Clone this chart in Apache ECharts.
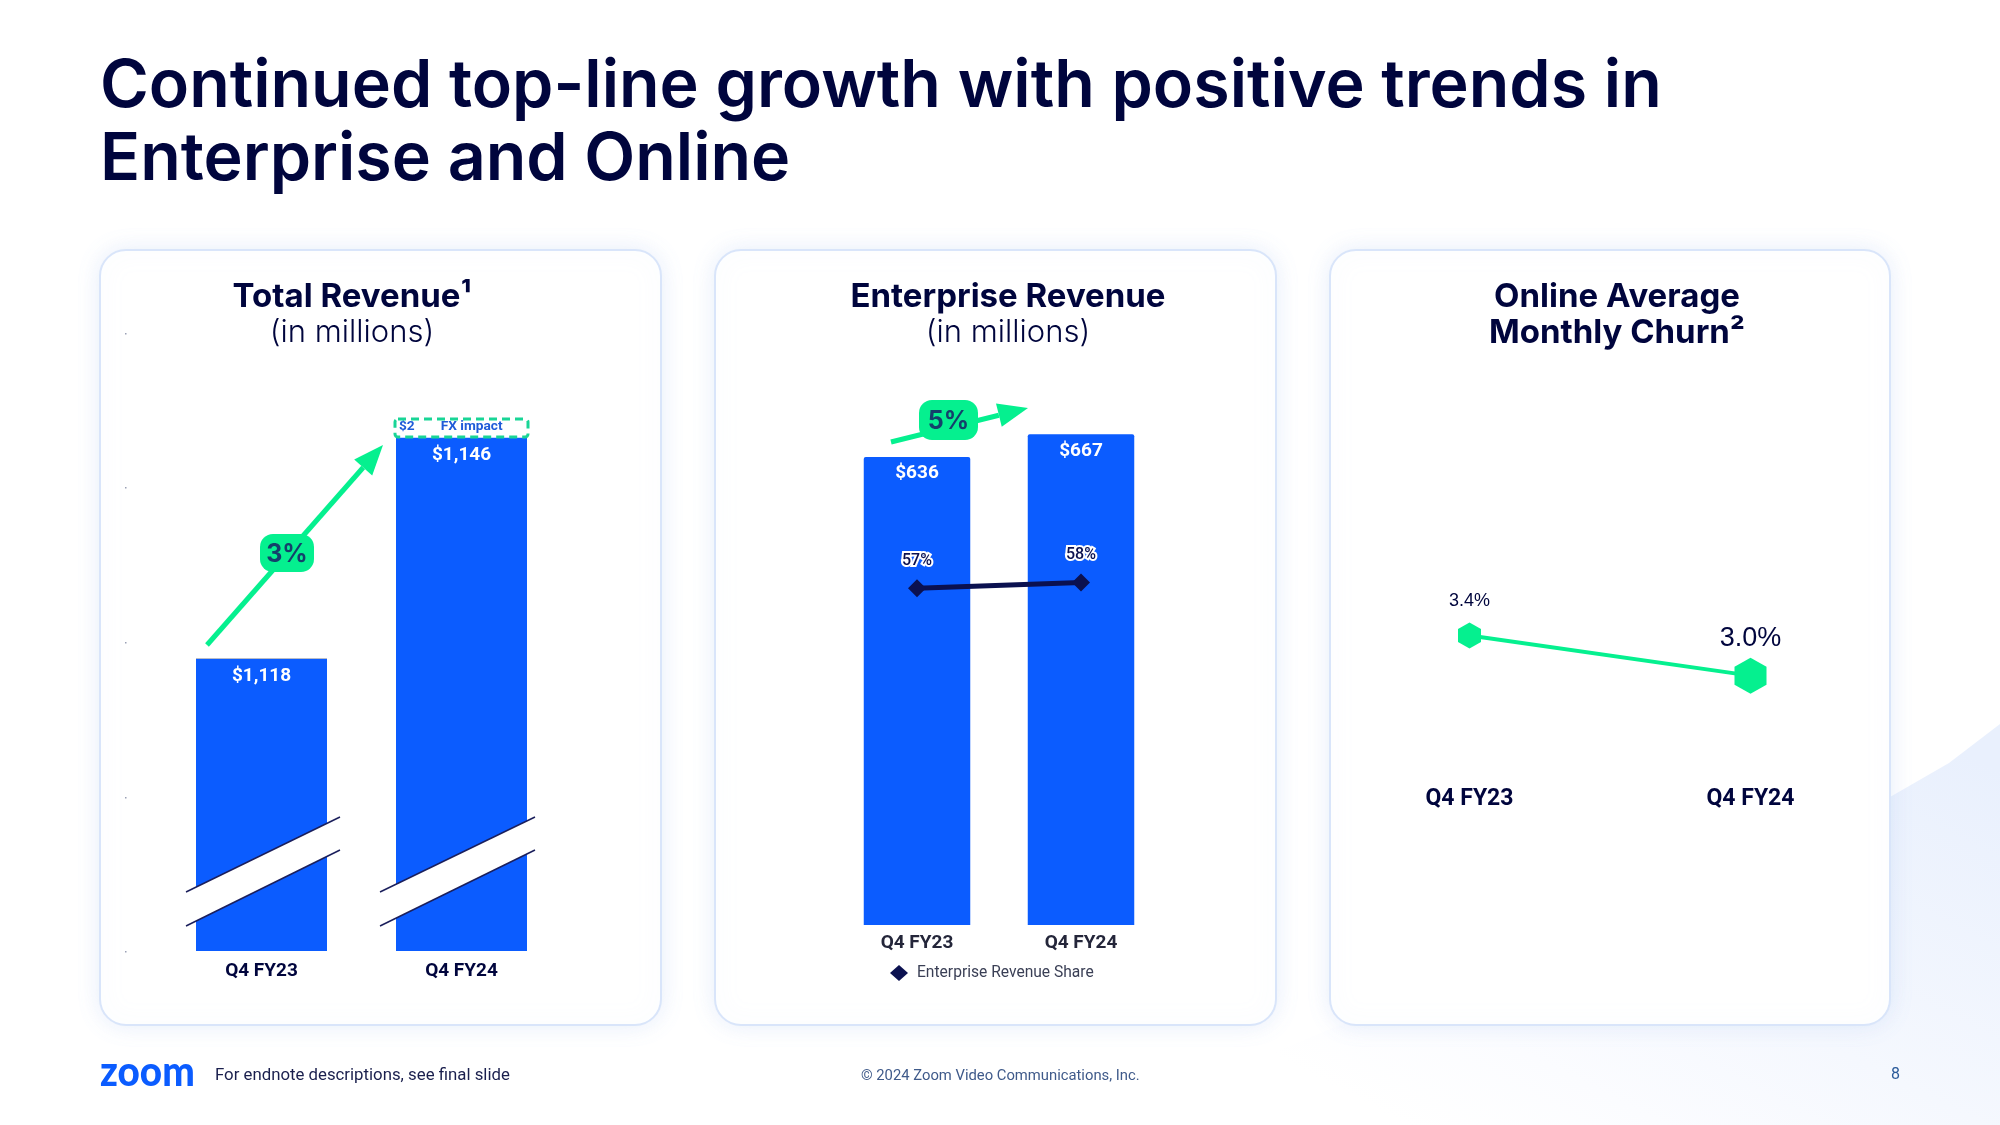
<!DOCTYPE html>
<html>
<head>
<meta charset="utf-8">
<title>Zoom Q4 FY24</title>
<style>
html, body { margin: 0; padding: 0; background: #fff; }
#container { width: 2000px; height: 1125px; }
</style>
<script src="https://cdn.jsdelivr.net/npm/echarts@6/dist/echarts.min.js"></script>
</head>
<body>
<div id="container"></div>
<script>
var categories = ['Q4 FY23', 'Q4 FY24'];
var totalRevenue = [1118, 1146];
var fxImpact = [null, 2];
var enterpriseRevenue = [636, 667];
var enterpriseShare = [57, 58];
var churn = [3.4, 3.0];

var BLUE = '#0B5CFF';
var NAVY = '#00053D';
var GREEN = '#05F08F';
var TITLE_FONT = 'Inter';
var BODY_FONT = 'Roboto';

// arrow = line + triangle head
function arrow(x1, y1, x2, y2) {
    var a = Math.atan2(y2 - y1, x2 - x1);
    var len = 30, half = 12;
    var bx = x2 - Math.cos(a) * len, by = y2 - Math.sin(a) * len;
    return [
        { type: 'line', z: 3, shape: { x1: x1, y1: y1, x2: bx, y2: by }, style: { stroke: GREEN, lineWidth: 5 } },
        { type: 'polygon', z: 3, shape: { points: [
            [x2, y2],
            [bx - Math.sin(a) * half, by + Math.cos(a) * half],
            [bx + Math.sin(a) * half, by - Math.cos(a) * half]
        ] }, style: { fill: GREEN } }
    ];
}

function badge(x, y, w, h, text) {
    return [
        { type: 'rect', z: 4, shape: { x: x, y: y, width: w, height: h, r: 13 }, style: { fill: GREEN } },
        { type: 'text', z: 5, style: { x: x + w / 2, y: y + h / 2 + 1, text: text, fill: '#14406B', font: '700 25px ' + TITLE_FONT, textAlign: 'center', textVerticalAlign: 'middle' } }
    ];
}

// white slash over the bars, marks the cut axis
function axisCut(x1, x2) {
    return [
        { type: 'polygon', z: 10, shape: { points: [[x1, 892], [x2, 817], [x2, 850], [x1, 926]] }, style: { fill: '#fff' } },
        { type: 'line', z: 11, shape: { x1: x1, y1: 892, x2: x2, y2: 817 }, style: { stroke: '#1B1F5C', lineWidth: 1.5 } },
        { type: 'line', z: 11, shape: { x1: x1, y1: 926, x2: x2, y2: 850 }, style: { stroke: '#1B1F5C', lineWidth: 1.5 } }
    ];
}

function panel(x, w) {
    return { type: 'rect', z: 0, shape: { x: x, y: 250, width: w, height: 775, r: 26 },
        style: { fill: '#fff', stroke: '#D9E5FA', lineWidth: 2, shadowBlur: 22, shadowColor: 'rgba(170,195,240,0.28)' } };
}

function headline(text, x, y, size, weight) {
    return { text: text, left: x, top: y, textAlign: 'center', textVerticalAlign: 'middle', padding: 0,
        textStyle: { color: NAVY, fontFamily: TITLE_FONT, fontSize: size, fontWeight: weight } };
}

var shapes = [
    { type: 'polygon', z: -2, shape: { points: [[1100, 1125], [1400, 1000], [1890, 797], [1949, 763], [2000, 724], [2000, 1125]] },
        style: { fill: new echarts.graphic.LinearGradient(0.9, 0, 0.6, 1.3, [
            { offset: 0, color: '#E9F0FD' }, { offset: 0.55, color: '#F5F8FE' }, { offset: 0.8, color: '#FBFCFF' }, { offset: 1, color: '#FFFFFF' }
        ]) } },
    panel(100, 561), panel(715, 561), panel(1330, 560),
    { type: 'line', z: 3, shape: { x1: 196, y1: 658.5, x2: 327, y2: 658.5 }, style: { stroke: '#B8BCC8', lineWidth: 1 } },
    // dashed box around the FX part of the bar
    { type: 'rect', z: 3, shape: { x: 395, y: 419, width: 133, height: 18, r: 3 },
        style: { fill: null, stroke: '#19D596', lineWidth: 3, lineDash: [8, 5] } },
    { type: 'text', z: 5, x: 100, y: 1072, scaleX: 0.92,
        style: { x: 0, y: 0, text: 'zoom', fill: BLUE, font: '900 42px Lato', textAlign: 'left', textVerticalAlign: 'middle' } }
];
[333, 487, 642, 797, 951].forEach(function (y) {
    shapes.push({ type: 'rect', z: 1, shape: { x: 125, y: y, width: 1.5, height: 1.5 }, style: { fill: '#9aa0b5' } });
});
shapes = shapes
    .concat(arrow(207, 645, 383, 445))
    .concat(badge(260, 534, 54, 38, '3%'))
    .concat(arrow(891, 442, 1028, 408))
    .concat(badge(919, 400, 59, 40, '5%'))
    .concat(axisCut(186, 340))
    .concat(axisCut(380, 535));

var hexagon = 'path://M0,-100 L86.6,-50 L86.6,50 L0,100 L-86.6,50 L-86.6,-50 Z';

function catAxis(gridIndex, size, color, margin) {
    return {
        type: 'category', gridIndex: gridIndex, data: categories,
        axisLine: { show: false }, axisTick: { show: false },
        axisLabel: { color: color, fontFamily: BODY_FONT, fontWeight: 700, fontSize: size, margin: margin }
    };
}

function valAxis(gridIndex, min, max) {
    return { type: 'value', gridIndex: gridIndex, min: min, max: max, show: false };
}

var dom = document.getElementById('container');
var myChart = echarts.init(dom);
var option = {
    animation: false,
    backgroundColor: '#fff',
    title: [
        { text: 'Continued top-line growth with positive trends in\nEnterprise and Online', left: 100, top: 51, padding: 0,
            textStyle: { color: NAVY, fontFamily: TITLE_FONT, fontSize: 66.3, fontWeight: 600, lineHeight: 73 } },
        headline('Total Revenue\u00B9', 352, 297, 33, 700),
        headline('(in millions)', 352, 333, 31, 300),
        headline('Enterprise Revenue', 1008, 297, 33, 700),
        headline('(in millions)', 1008, 333, 31, 300),
        headline('Online Average', 1617, 297, 33, 700),
        headline('Monthly Churn\u00B2', 1617, 333, 33, 700),
        { text: 'For endnote descriptions, see final slide', left: 215, top: 1067, padding: 0,
            textStyle: { color: '#1A1F4D', fontFamily: BODY_FONT, fontSize: 16.8, fontWeight: 400 } },
        { text: '\u00A9 2024 Zoom Video Communications, Inc.', left: 861, top: 1069, padding: 0,
            textStyle: { color: '#3F5A8A', fontFamily: BODY_FONT, fontSize: 14.8, fontWeight: 400 } },
        { text: '8', left: 1891, top: 1067, padding: 0,
            textStyle: { color: '#2A5A9A', fontFamily: BODY_FONT, fontSize: 16, fontWeight: 400 } }
    ],
    legend: {
        left: 890, top: 965, itemWidth: 18, itemHeight: 16, padding: 0,
        data: [{ name: 'Enterprise Revenue Share', icon: 'diamond' }],
        textStyle: { color: '#3A3F55', fontFamily: BODY_FONT, fontSize: 15.6, padding: [0, 0, 0, 4] }
    },
    grid: [
        { left: 161.5, width: 400, top: 406, height: 545 },
        { left: 835, width: 328, top: 410, height: 515 },
        { left: 1329, width: 562, top: 500, height: 280 }
    ],
    xAxis: [
        catAxis(0, 19, NAVY, 11),
        catAxis(1, 19, '#24263A', 9),
        catAxis(2, 23, NAVY, 8)
    ],
    yAxis: [
        valAxis(0, 1081, 1150),
        valAxis(1, 0, 700),
        valAxis(1, 0, 87.2),
        valAxis(2, 1.96, 4.75)
    ],
    graphic: shapes,
    series: [
        {
            type: 'bar', name: 'Total Revenue', xAxisIndex: 0, yAxisIndex: 0, stack: 'total', barWidth: 131,
            data: totalRevenue, itemStyle: { color: BLUE },
            label: { show: true, position: 'insideTop', distance: 8, color: '#fff', fontFamily: BODY_FONT, fontWeight: 700, fontSize: 19,
                formatter: function (p) { return '$' + p.value.toLocaleString('en-US'); } }
        },
        {
            type: 'bar', name: 'FX impact', xAxisIndex: 0, yAxisIndex: 0, stack: 'total', barWidth: 131,
            data: fxImpact, itemStyle: { color: '#fff' },
            label: { show: true, position: 'insideLeft', distance: 3, offset: [0, -3], formatter: '{a|$2}{b|FX impact}',
                rich: {
                    a: { color: '#1F5BD8', fontFamily: BODY_FONT, fontWeight: 700, fontSize: 13.7 },
                    b: { color: '#1F5BD8', fontFamily: BODY_FONT, fontWeight: 700, fontSize: 13.7, padding: [0, 0, 0, 26] }
                } }
        },
        {
            type: 'bar', name: 'Enterprise Revenue', xAxisIndex: 1, yAxisIndex: 1, barWidth: 106.5,
            data: enterpriseRevenue, itemStyle: { color: BLUE, borderRadius: [2, 2, 0, 0] },
            label: { show: true, position: 'insideTop', distance: 7, color: '#fff', fontFamily: BODY_FONT, fontWeight: 700, fontSize: 19,
                formatter: '${c}' }
        },
        {
            type: 'line', name: 'Enterprise Revenue Share', xAxisIndex: 1, yAxisIndex: 2,
            data: enterpriseShare, symbol: 'diamond', symbolSize: 18,
            lineStyle: { color: '#0B1150', width: 5 }, itemStyle: { color: '#0B1150' },
            label: { show: true, position: 'top', distance: 10, color: '#0B1150', fontFamily: BODY_FONT, fontWeight: 500, fontSize: 16,
                textBorderColor: '#fff', textBorderWidth: 4, formatter: '{c}%' }
        },
        {
            type: 'line', name: 'Online Average Monthly Churn', xAxisIndex: 2, yAxisIndex: 3,
            symbol: hexagon, lineStyle: { color: GREEN, width: 4 }, itemStyle: { color: GREEN },
            data: [
                { value: churn[0], symbolSize: [23, 26], label: { fontSize: 18, distance: 12 } },
                { value: churn[1], symbolSize: [32, 36], label: { fontSize: 27, distance: 6 } }
            ],
            label: { show: true, position: 'top', color: NAVY, fontFamily: 'Liberation Sans',
                formatter: function (p) { return p.value.toFixed(1) + '%'; } }
        }
    ]
};
myChart.setOption(option, true);
</script>
</body>
</html>
